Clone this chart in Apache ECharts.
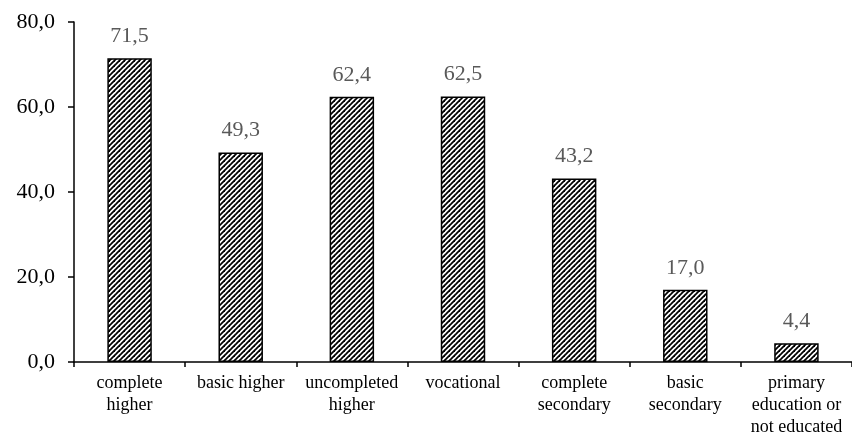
<!DOCTYPE html>
<html>
<head>
<meta charset="utf-8">
<script src="https://cdn.jsdelivr.net/npm/echarts@6/dist/echarts.min.js"></script>
<style>html,body{margin:0;padding:0;background:#fff}#c{width:852px;height:433px}</style>
</head>
<body>
<div id="c"></div>
<script>
const categories = ['complete\nhigher', 'basic higher', 'uncompleted\nhigher', 'vocational', 'complete\nsecondary', 'basic\nsecondary', 'primary\neducation or\nnot educated'];
const values = [71.5, 49.3, 62.4, 62.5, 43.2, 17.0, 4.4];
const yTicks = [0, 20, 40, 60, 80];

function makePattern() {
  const P = 5;
  const cv = document.createElement('canvas');
  cv.width = P; cv.height = P;
  const ctx = cv.getContext('2d');
  ctx.fillStyle = '#fff';
  ctx.fillRect(0, 0, P, P);
  ctx.strokeStyle = '#000';
  ctx.lineWidth = 1.8;
  for (let k = -1; k <= 1; k++) {
    ctx.beginPath();
    ctx.moveTo(k * P - 1, P + 1);
    ctx.lineTo(k * P + P + 1, -1);
    ctx.stroke();
  }
  return cv;
}

const chart = echarts.init(document.getElementById('c'), null, {renderer: 'canvas'});
const fmt = v => v.toFixed(1).replace('.', ',');
chart.setOption({
  animation: false,
  grid: {left: 74, right: 0, top: 22, bottom: 71, containLabel: false, outerBoundsMode: 'none'},
  xAxis: {
    type: 'category',
    data: categories,
    boundaryGap: true,
    axisLine: {lineStyle: {color: '#000', width: 1.5}},
    axisTick: {show: true, length: 5, inside: false, lineStyle: {color: '#000', width: 1.5}},
    axisLabel: {interval: 0, color: '#000', fontFamily: 'Liberation Serif', fontSize: 18, lineHeight: 22, margin: 10}
  },
  yAxis: {
    type: 'value',
    min: yTicks[0],
    max: yTicks[yTicks.length - 1],
    interval: 20,
    splitLine: {show: false},
    axisLine: {show: true, lineStyle: {color: '#000', width: 1.5}},
    axisTick: {show: true, length: 6, lineStyle: {color: '#000', width: 1.5}},
    axisLabel: {color: '#000', fontFamily: 'Liberation Serif', fontSize: 22, margin: 19, formatter: fmt}
  },
  series: [{
    type: 'bar',
    data: values,
    barWidth: '40%',
    itemStyle: {
      color: {image: makePattern(), repeat: 'repeat'},
      borderColor: '#000',
      borderWidth: 1.5
    },
    label: {
      show: true,
      position: 'top',
      distance: 11,
      color: '#595959',
      fontFamily: 'Liberation Serif',
      fontSize: 22,
      formatter: p => fmt(p.value)
    }
  }]
});
</script>
</body>
</html>
